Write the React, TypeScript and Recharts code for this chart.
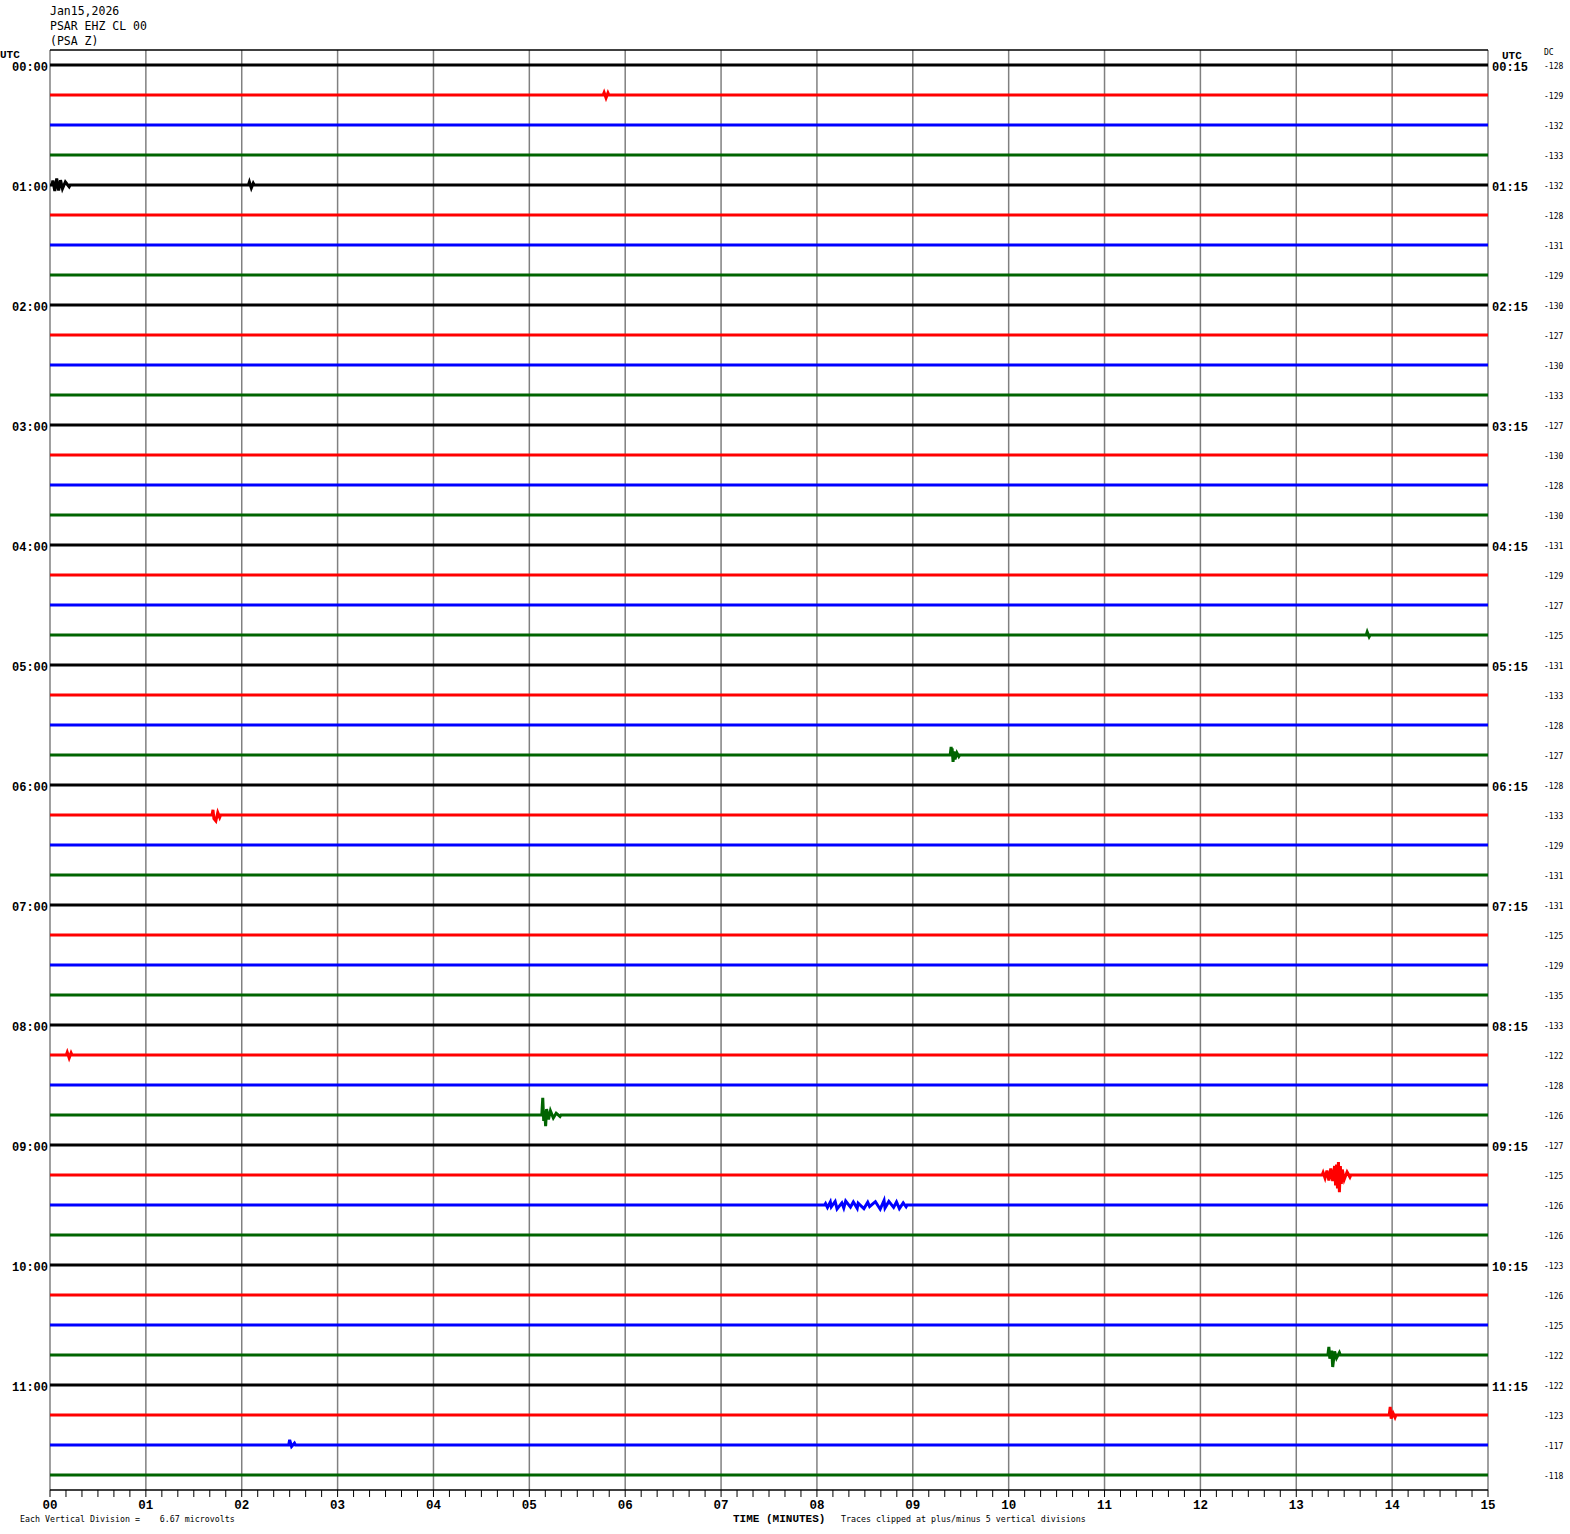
import { LineChart, Line, XAxis, YAxis, ReferenceLine } from "recharts";

// helicorder layout: 12 hours x 4 rows of 15 minutes
const hourLabels = ["00:00", "01:00", "02:00", "03:00", "04:00", "05:00", "06:00", "07:00", "08:00", "09:00", "10:00", "11:00"];
const quarterLabels = ["00:15", "01:15", "02:15", "03:15", "04:15", "05:15", "06:15", "07:15", "08:15", "09:15", "10:15", "11:15"];
const minuteLabels = ["00", "01", "02", "03", "04", "05", "06", "07", "08", "09", "10", "11", "12", "13", "14", "15"];

// DC offset printed to the right of each row
const dcValues = [
  -128, -129, -132, -133, -132, -128, -131, -129, -130, -127, -130, -133,
  -127, -130, -128, -130, -131, -129, -127, -125, -131, -133, -128, -127,
  -128, -133, -129, -131, -131, -125, -129, -135, -133, -122, -128, -126,
  -127, -125, -126, -126, -123, -126, -125, -122, -122, -123, -117, -118,
];

const rowColors = ["#000000", "#ff0000", "#0000ff", "#006400"];

// wiggles: [minute, deflection in row spacings (up = +)]
const ev0100a = [[0.03, 0.15], [0.05, -0.2], [0.07, 0.22], [0.09, -0.18], [0.11, 0.16], [0.13, -0.12], [0.16, 0.1], [0.2, -0.06]];
const ev0100b = [[2.08, 0.1], [2.1, -0.1], [2.12, 0.06]];
const ev0015 = [[5.78, 0.08], [5.8, -0.1], [5.82, 0.07]];
const ev0445 = [[13.74, 0.1], [13.76, -0.06]];
const ev0545 = [[9.4, 0.27], [9.405, -0.05], [9.41, 0.22], [9.42, -0.23], [9.43, 0.12], [9.44, -0.14], [9.46, 0.07], [9.48, -0.05]];
const ev0615 = [[1.7, 0.17], [1.71, -0.12], [1.73, -0.2], [1.75, 0.08], [1.77, -0.08]];
const ev0815 = [[0.18, 0.09], [0.2, -0.1], [0.22, 0.07]];
const ev0845 = [[5.14, 0.57], [5.15, -0.2], [5.16, 0.15], [5.17, -0.37], [5.18, 0.2], [5.2, -0.15], [5.22, 0.14], [5.25, -0.1], [5.28, 0.06], [5.32, -0.05]];
const ev0915 = [
  [13.28, 0.08], [13.3, -0.1], [13.32, 0.15], [13.34, -0.18], [13.36, 0.22], [13.38, -0.2], [13.4, 0.3],
  [13.41, -0.35], [13.42, 0.35], [13.43, -0.45], [13.44, 0.43], [13.45, -0.57], [13.46, 0.3], [13.47, -0.3],
  [13.48, 0.18], [13.5, -0.15], [13.53, 0.1], [13.56, -0.07],
];
const ev0930 = [
  [8.09, 0.05], [8.11, -0.08], [8.14, 0.1], [8.15, -0.06], [8.19, 0.12], [8.21, -0.13], [8.26, 0.07],
  [8.28, -0.1], [8.3, 0.13], [8.35, -0.07], [8.38, 0.1], [8.42, -0.11], [8.43, 0.06], [8.49, -0.12],
  [8.53, 0.09], [8.55, -0.05], [8.61, 0.11], [8.66, -0.14], [8.7, 0.15], [8.71, -0.1], [8.75, 0.12],
  [8.8, -0.08], [8.83, 0.1], [8.86, -0.12], [8.9, 0.07], [8.93, -0.06],
];
const ev1045 = [[13.34, 0.27], [13.35, -0.12], [13.37, 0.15], [13.38, -0.4], [13.4, 0.12], [13.42, -0.1], [13.45, 0.08]];
const ev1115 = [[13.98, 0.27], [13.99, -0.12], [14.01, 0.06], [14.03, -0.08]];
const ev1130 = [[2.5, 0.17], [2.52, -0.05], [2.55, 0.06]];

const rowEvents: Record<number, number[][][]> = {
  1: [ev0015], 4: [ev0100a, ev0100b], 19: [ev0445], 23: [ev0545], 25: [ev0615], 33: [ev0815],
  35: [ev0845], 37: [ev0915], 38: [ev0930], 43: [ev1045], 45: [ev1115], 46: [ev1130],
};

const ROWS = 48;

// each row sits at -(row + 0.5); wiggle clusters are anchored back to the baseline on both sides
const traces = Array.from({ length: ROWS }, (_, i) => {
  const c = -(i + 0.5);
  const pts: { t: number; v: number }[] = [{ t: 0, v: c }];
  for (const cl of rowEvents[i] || []) {
    const first = cl[0][0];
    const last = cl[cl.length - 1][0];
    if (first > 0.01) pts.push({ t: first - 0.01, v: c });
    cl.forEach(([t, a]) => pts.push({ t, v: c + a }));
    pts.push({ t: last + 0.01, v: c });
  }
  pts.push({ t: 15, v: c });
  return pts;
});

const axisSpan = [{ t: 0, v: -48 }, { t: 15, v: 0 }];

const xTicks = Array.from({ length: 91 }, (_, k) => k / 6);
const hourTicks = hourLabels.map((_, k) => -(k * 4 + 0.5));
const rowTicks = dcValues.map((_, i) => -(i + 0.5));

const isWhole = (v: number) => Math.abs(v - Math.round(v)) < 1e-6;
const rowOf = (v: number) => Math.round(-v - 0.5);

const mono = "'DejaVu Sans Mono', monospace";
const boldMono = "'Liberation Mono', monospace";

// y-axis label drawn a touch below the row centre, like the plot
function rowTick(labels: (v: number) => string, anchor: string, size: number, bold: boolean) {
  return (props: any) => {
    const { x, y, payload } = props;
    return (
      <text
        x={x}
        y={y}
        dy={size * 0.38 + 1}
        textAnchor={anchor}
        fontSize={size}
        fontWeight={bold ? "bold" : "normal"}
        fontFamily={bold ? boldMono : mono}
        fill="#000"
      >
        {labels(payload.value)}
      </text>
    );
  };
}

function Txt({ x, y, size, bold, children, font }: any) {
  return (
    <div
      style={{
        position: "absolute",
        left: x,
        top: y - size * 0.65,
        fontSize: size,
        lineHeight: `${size * 1.3}px`,
        fontFamily: font || mono,
        fontWeight: bold ? "bold" : "normal",
        whiteSpace: "pre",
        color: "#000",
      }}
    >
      {children}
    </div>
  );
}

export default function App() {
  return (
    <div style={{ position: "absolute", left: 0, top: 0, width: 1570, height: 1534, background: "#fff" }}>
      <LineChart width={1570} height={1534} margin={{ top: 50, right: 0, bottom: 0, left: 0 }}>
        <XAxis
          xAxisId="T"
          dataKey="t"
          type="number"
          domain={[0, 15]}
          ticks={xTicks}
          interval={0}
          height={44}
          tickSize={7}
          tickMargin={3}
          axisLine={{ stroke: "#000", strokeWidth: 1.5 }}
          tickLine={{ stroke: "#000" }}
          tick={{ fill: "#000", fontSize: 12.5, fontWeight: "bold", fontFamily: boldMono }}
          tickFormatter={(v: number) => (isWhole(v) ? minuteLabels[Math.round(v)] : "")}
        />
        <YAxis
          yAxisId="L"
          type="number"
          domain={[-48, 0]}
          ticks={hourTicks}
          interval={0}
          width={50}
          tickSize={0}
          tickMargin={2}
          axisLine={false}
          tickLine={false}
          tick={rowTick((v) => hourLabels[Math.round(rowOf(v) / 4)], "end", 12, true)}
        />
        <YAxis
          yAxisId="A"
          orientation="right"
          type="number"
          domain={[-48, 0]}
          ticks={hourTicks}
          interval={0}
          width={52}
          tickSize={0}
          tickMargin={4}
          axisLine={false}
          tickLine={false}
          tick={rowTick((v) => quarterLabels[Math.round(rowOf(v) / 4)], "start", 12, true)}
        />
        <YAxis
          yAxisId="B"
          orientation="right"
          type="number"
          domain={[-48, 0]}
          ticks={rowTicks}
          interval={0}
          width={30}
          tickSize={0}
          tickMargin={4}
          axisLine={false}
          tickLine={false}
          tick={rowTick((v) => String(dcValues[rowOf(v)]), "start", 8, false)}
        />
        {minuteLabels.map((_, m) => (
          <ReferenceLine key={"g" + m} xAxisId="T" yAxisId="L" x={m} stroke="#808080" strokeWidth={1.5} />
        ))}
        <ReferenceLine xAxisId="T" yAxisId="L" y={0} stroke="#000" strokeWidth={1.5} />
        {/* invisible series so the right-hand axes get a domain */}
        <Line xAxisId="T" yAxisId="A" data={axisSpan} dataKey="v" stroke="none" dot={false} activeDot={false} isAnimationActive={false} />
        <Line xAxisId="T" yAxisId="B" data={axisSpan} dataKey="v" stroke="none" dot={false} activeDot={false} isAnimationActive={false} />
        {traces.map((d, i) => (
          <Line
            key={i}
            xAxisId="T"
            yAxisId="L"
            data={d}
            dataKey="v"
            type="linear"
            stroke={rowColors[i % 4]}
            strokeWidth={3}
            dot={false}
            activeDot={false}
            isAnimationActive={false}
          />
        ))}
      </LineChart>
      <Txt x={50} y={11} size={11.5}>Jan15,2026</Txt>
      <Txt x={50} y={26} size={11.5}>PSAR EHZ CL 00</Txt>
      <Txt x={50} y={41} size={11.5}>(PSA Z)</Txt>
      <Txt x={0} y={55} size={11} bold font={boldMono}>UTC</Txt>
      <Txt x={1502} y={56} size={11} bold font={boldMono}>UTC</Txt>
      <Txt x={1544} y={53} size={8}>DC</Txt>
      <Txt x={733} y={1519} size={11} bold font={boldMono}>TIME (MINUTES)</Txt>
      <Txt x={841} y={1519} size={8.3}>Traces clipped at plus/minus 5 vertical divisions</Txt>
      <Txt x={20} y={1519} size={8.3}>{"Each Vertical Division =    6.67 microvolts"}</Txt>
    </div>
  );
}
